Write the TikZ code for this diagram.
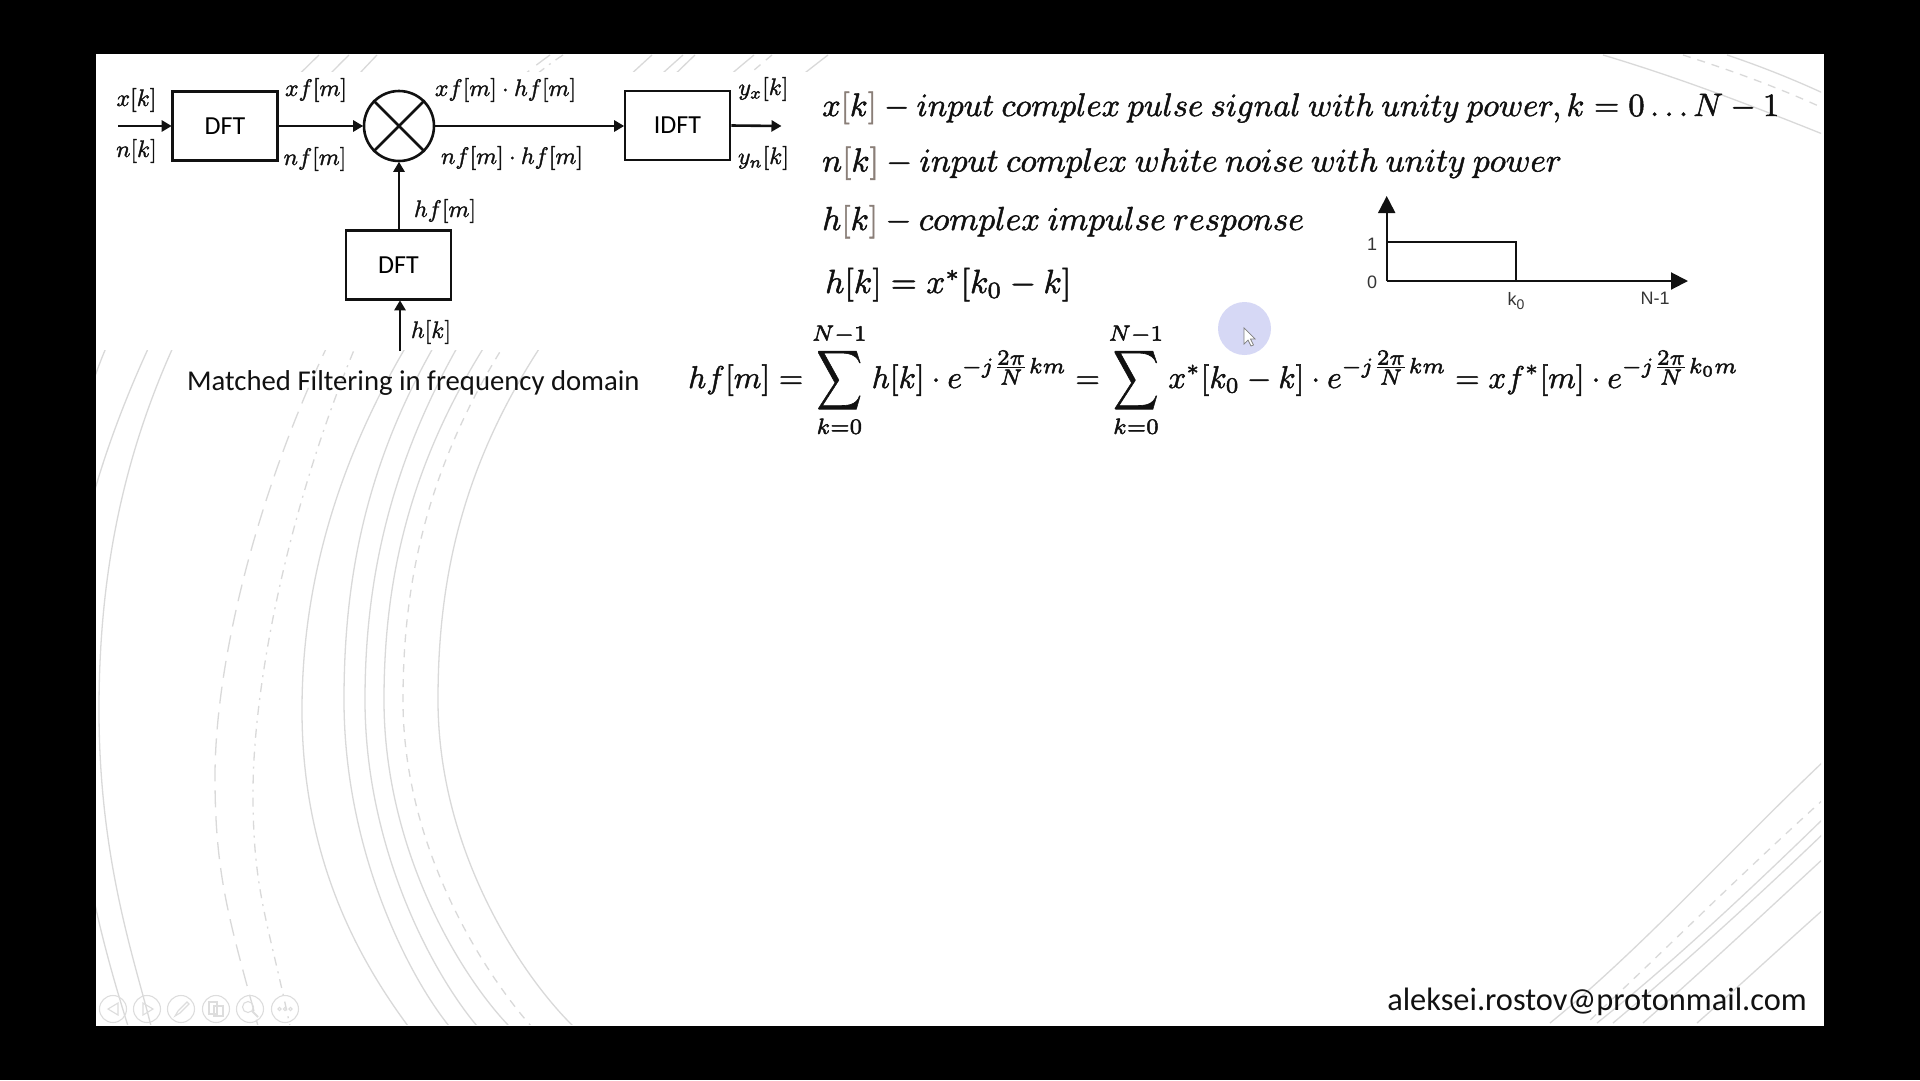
\documentclass[tikz,border=0pt]{standalone}
\usepackage{fontspec}
\setmainfont{Carlito}
\newfontfamily\graphfont{Liberation Sans}
\usetikzlibrary{arrows.meta,calc}
\definecolor{brk}{HTML}{8A7F78}
\definecolor{arcgray}{HTML}{D9D9D9}
\definecolor{inkc}{HTML}{111111}
\definecolor{halo}{HTML}{D6D8F5}
\newcommand{\gl}{\mathopen{\textcolor{brk}{[}}}
\newcommand{\gr}{\mathclose{\textcolor{brk}{]}}}
\newcommand{\frc}{\frac{\scriptstyle 2\pi}{\scriptstyle N}}
\newcommand{\hv}[1]{\special{pdf:code 2 Tr 0.15 w}#1\special{pdf:code 0 Tr}}
\newcommand{\fitw}[2]{\resizebox{#1pt}{!}{\hv{#2}}}
\newcommand{\bigsum}{\mathop{\vcenter{\hbox{\scalebox{1}[1.32]{$\displaystyle\sum$}}}}\limits}
\newcommand{\lowlim}{\raisebox{2.2pt}{$\scriptstyle k=0$}}
\tikzset{
  blockbox/.style={draw=inkc,line width=2.6pt,fill=white,inner sep=0pt,minimum width=105pt,minimum height=69pt,font=\fontsize{26}{30}\selectfont},
  flow/.style={draw=inkc,line width=2.6pt,-{Triangle[length=10pt,width=11pt]},shorten >=-0.5pt},
  lab/.style={inner sep=0pt,text=inkc,scale=2.38},
  eqn/.style={inner sep=0pt,anchor=base west,text=inkc},
  bgarc/.style={draw=arcgray,line width=1.3pt},
  glab/.style={inner sep=0pt,text=inkc!85,font=\graphfont\fontsize{18}{20}\selectfont},
  icon/.style={draw=arcgray!90,line width=1.1pt},
}
\begin{document}
\begin{tikzpicture}[x=1pt,y=-1pt]
\useasboundingbox (0,0) rectangle (1920,1080);
\fill[black] (0,0) rectangle (1920,1080);
\fill[white] (96,54) rectangle (1824,1026);
% background arcs
\begin{scope}
\clip (96,54) rectangle (1821,1024);
\draw[bgarc] (377,55) .. controls (150,291) and (99,510) .. (99,710) .. controls (99,860) and (135,961) .. (151,1026);
\draw[bgarc] (349,55) .. controls (210,190) and (125,380) .. (92,500);
\draw[bgarc] (319,55) .. controls (220,150) and (130,270) .. (92,385);
\draw[bgarc] (92,890) .. controls (100,930) and (112,975) .. (128,1026);
\draw[bgarc,dash pattern=on 17pt off 9pt] (550,55) .. controls (343,202) and (215,577) .. (215,777) .. controls (215,877) and (230,922) .. (258,1026);
\draw[bgarc,dash pattern=on 9pt off 6pt on 2pt off 6pt] (563,55) .. controls (371,180) and (253,593) .. (253,793) .. controls (253,890) and (267,917) .. (290,1026);
\draw[bgarc] (652,55) .. controls (391,291) and (302,510) .. (302,710) .. controls (302,860) and (360,961) .. (408,1026);
\draw[bgarc] (683,55) .. controls (402,304) and (344,500) .. (344,700) .. controls (344,850) and (408,975) .. (449,1026);
\draw[bgarc] (695,55) .. controls (434,304) and (365,500) .. (365,700) .. controls (365,850) and (434,975) .. (477,1026);
\draw[bgarc] (754,55) .. controls (453,304) and (384,500) .. (384,700) .. controls (384,850) and (460,975) .. (509,1026);
\draw[bgarc,dash pattern=on 8pt off 7pt] (772,55) .. controls (472,304) and (403,500) .. (403,700) .. controls (403,850) and (486,975) .. (531,1026);
\draw[bgarc] (828,55) .. controls (503,304) and (438,500) .. (438,700) .. controls (438,850) and (521,975) .. (573,1026);
\draw[bgarc] (1825,760) .. controls (1730,850) and (1640,950) .. (1550,1023);
\draw[bgarc,dash pattern=on 8pt off 7pt] (1825,798) .. controls (1745,870) and (1665,950) .. (1587,1023);
\draw[bgarc] (1825,817) .. controls (1750,890) and (1670,965) .. (1597,1023);
\draw[bgarc] (1825,832) .. controls (1752,902) and (1682,965) .. (1613,1023);
\draw[bgarc] (1825,857) .. controls (1762,915) and (1700,973) .. (1643,1023);
\draw[bgarc] (1825,908) .. controls (1780,948) and (1737,988) .. (1697,1023);
\draw[bgarc] (1603,55) .. controls (1680,78) and (1750,105) .. (1825,135);
\draw[bgarc,dash pattern=on 8pt off 7pt] (1683,55) .. controls (1730,70) and (1780,88) .. (1825,109);
\draw[bgarc] (1727,55) .. controls (1760,66) and (1795,80) .. (1825,94);
\end{scope}
% white area of the pasted block diagram
\fill[white] (96,72) rectangle (810,350);
% slide show controls
\foreach \cx in {113,147,181,216,250,285}{\draw[icon] (\cx,1009) circle (13.5);}
\draw[icon] (118,1003) -- (108,1009) -- (118,1015) -- cycle;
\draw[icon] (143,1003) -- (153,1009) -- (143,1015) -- cycle;
\draw[icon] (175,1016) -- (178,1011) -- (187,1002) -- (189,1004) -- (180,1013) -- cycle;
\draw[icon] (209,1002) rectangle (217,1014);
\draw[icon] (214,1006) rectangle (223,1016);
\draw[icon] (248,1007) circle (5.5);
\draw[icon,line width=2pt] (252,1011) -- (258,1017);
\foreach \dx in {279.5,285,290.5}{\draw[icon] (\dx,1009) circle (1.6);}
% pointer highlight
\fill[halo] (1244.5,328.5) circle (26.5);
\draw[gray,line width=0.7pt,fill=white] (1244,328) -- (1244,344) -- (1248,340) -- (1251,346) -- (1253.5,345) -- (1250.5,339) -- (1255,339) -- cycle;
% block diagram
\node[blockbox] (dft1) at (225,126) {\raisebox{-1.2pt}{DFT}};
\node[draw=inkc,line width=2.6pt,circle,minimum size=70pt,inner sep=0pt] (mix) at (399,126) {};
\node[blockbox] (idft) at (677.5,125.5) {\raisebox{-1.2pt}{IDFT}};
\node[blockbox] (dft2) at (398.5,265) {\raisebox{-1.2pt}{DFT}};
\coordinate (inp) at (118,126);
\coordinate (outp) at (781,126);
\coordinate (hin) at (400,351);
\draw[flow] (inp) -- (dft1.west);
\draw[flow] (dft1.east) -- (mix.west);
\draw[flow] (mix.east) -- (mix.east -| idft.west);
\draw[flow] (idft.east) -- (outp);
\draw[flow] (dft2.north -| mix.south) -- (mix.south);
\draw[flow] (hin) -- (hin |- dft2.south);
\draw[draw=inkc,line width=2.6pt] (mix.45) -- (mix.225) (mix.135) -- (mix.315);
\node[lab] (lxk) at (136.5,100) {\hv{$x[k]$}};
\node[lab] (lnk) at (136.5,151) {\hv{$n[k]$}};
\node[lab] (lxf) at (316,90) {\hv{$xf[m]$}};
\node[lab] (lnf) at (315,159) {\hv{$nf[m]$}};
\node[lab] (lxh) at (505.5,90) {\hv{$xf[m]\cdot hf[m]$}};
\node[lab] (lnh) at (512,158) {\hv{$nf[m]\cdot hf[m]$}};
\node[lab] (lyx) at (763.5,89) {\hv{$y_x[k]$}};
\node[lab] (lyn) at (763.5,158) {\hv{$y_n[k]$}};
\node[lab] (lhf) at (445,211) {\hv{$hf[m]$}};
\node[lab] (lhk) at (431,332) {\hv{$h[k]$}};
\node[inner sep=0pt,anchor=base west,text=inkc,font=\fontsize{28.7}{34}\selectfont] (title) at (187,390) {Matched Filtering in frequency domain};
% definitions
\node[eqn] (l1) at (822,116) {\fitw{957}{$x\gl k\gr - input\ complex\ pulse\ signal\ with\ unity\ power,k=0\ldots N-1$}};
\node[eqn] (l2) at (822,171.5) {\fitw{740}{$n\gl k\gr - input\ complex\ white\ noise\ with\ unity\ power$}};
\node[eqn] (l3) at (822,230) {\fitw{482}{$h\gl k\gr - complex\ impulse\ response$}};
\node[eqn] (l4) at (825,293) {\fitw{246}{$h[k]=x^*[k_0-k]$}};
\node[eqn] (eq) at (688,388) {\fitw{1050}{$\displaystyle hf[m]=\bigsum_{\lowlim}^{N-1}h[k]\cdot e^{-j\frc km}=\bigsum_{\lowlim}^{N-1}x^*[k_0-k]\cdot e^{-j\frc km}=xf^*[m]\cdot e^{-j\frc k_0m}$}};
% small graph
\coordinate (org) at (1386.7,281);
\coordinate (ytop) at (1386.7,196);
\coordinate (xend) at (1688,281);
\coordinate (rtl) at (1386.7,242);
\coordinate (rtr) at (1515.6,242);
\coordinate (rbr) at (1515.6,281);
\draw[draw=inkc,line width=2pt,-{Triangle[length=17pt,width=17pt]}] (org) -- (ytop);
\draw[draw=inkc,line width=2pt,-{Triangle[length=17pt,width=17pt]}] (org) -- (xend);
\draw[draw=inkc,line width=1.8pt] (rtl) -- (rtr) -- (rbr);
\node[glab] (g1) at (1372,244) {1};
\node[glab] (g0) at (1372,282) {0};
\node[glab] (gk) at (1516,301) {k\raisebox{-4pt}{\fontsize{14}{14}\selectfont 0}};
\node[glab] (gn) at (1655,298) {N-1};
\node[inner sep=0pt,anchor=base east,text=inkc,font=\fontsize{32.4}{38}\selectfont] (mail) at (1807,1010) {aleksei.rostov@protonmail.com};
\end{tikzpicture}
\end{document}
